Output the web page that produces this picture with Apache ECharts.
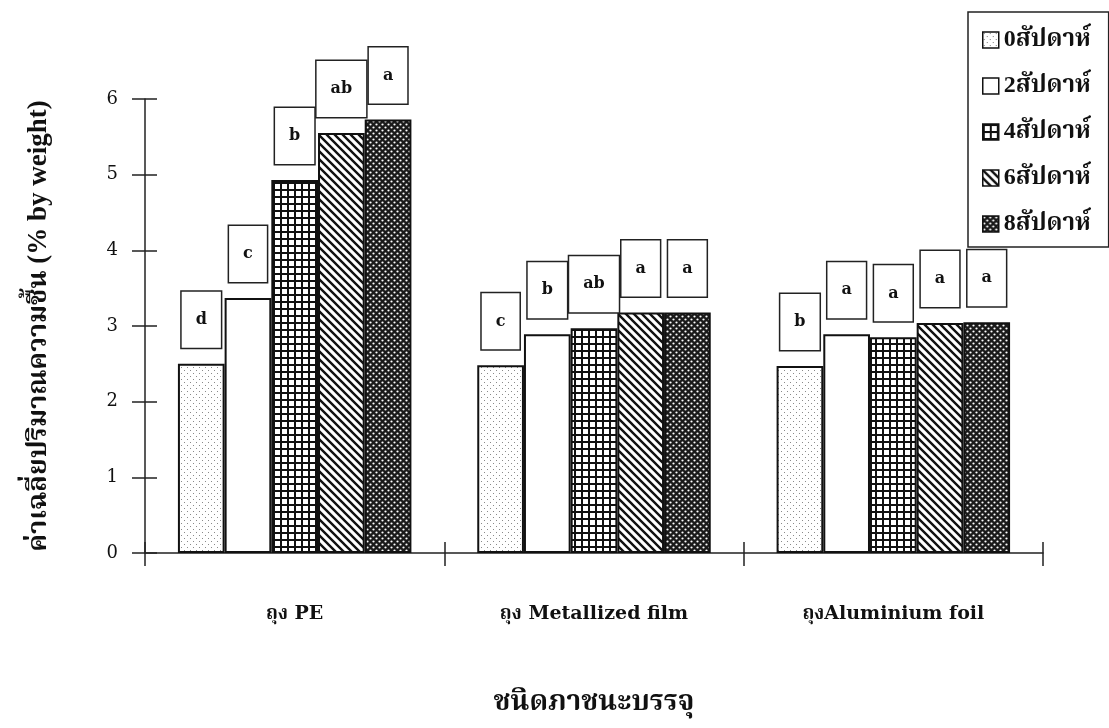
<!DOCTYPE html>
<html>
<head>
<meta charset="utf-8">
<script src="https://cdn.jsdelivr.net/npm/echarts@6/dist/echarts.min.js"></script>
<style>
  html, body { margin: 0; padding: 0; background: #fff; }
  #chart { width: 1109px; height: 728px; }
</style>
</head>
<body>
<div id="chart"></div>
<script>
// Packaging types and storage periods
const packages = ['ถุง PE', 'ถุง Metallized film', 'ถุงAluminium foil'];
const weeks = ['0สัปดาห์', '2สัปดาห์', '4สัปดาห์', '6สัปดาห์', '8สัปดาห์'];

// Mean moisture content (% by weight) per package, one array per storage week
const week0 = [2.50, 2.48, 2.47];
const week2 = [3.37, 2.89, 2.89];
const week4 = [4.93, 2.97, 2.85];
const week6 = [5.55, 3.18, 3.04];
const week8 = [5.73, 3.18, 3.05];

// Significance letters shown above each bar
const letters0 = ['d', 'c', 'b'];
const letters2 = ['c', 'b', 'a'];
const letters4 = ['b', 'ab', 'a'];
const letters6 = ['ab', 'a', 'a'];
const letters8 = ['a', 'a', 'a'];

const yTicks = [0, 1, 2, 3, 4, 5, 6];

const seriesValues = [week0, week2, week4, week6, week8];
const seriesLetters = [letters0, letters2, letters4, letters6, letters8];

// Monochrome fill patterns drawn on small tiles
function tile(size, draw) {
  const c = document.createElement('canvas');
  c.width = size; c.height = size;
  const g = c.getContext('2d');
  draw(g, size);
  return { image: c, repeat: 'repeat' };
}
const fills = [
  tile(6, (g, s) => {            // light stipple
    g.fillStyle = '#fff'; g.fillRect(0, 0, s, s);
    g.fillStyle = '#8a8a8a';
    g.fillRect(1, 1, 1, 1); g.fillRect(4, 4, 1, 1);
  }),
  tile(6, (g, s) => {            // plain white
    g.fillStyle = '#fff'; g.fillRect(0, 0, s, s);
  }),
  tile(7, (g, s) => {            // square grid
    g.fillStyle = '#fff'; g.fillRect(0, 0, s, s);
    g.fillStyle = '#111';
    g.fillRect(0, 0, s, 2); g.fillRect(0, 0, 2, s);
  }),
  tile(8, (g, s) => {            // diagonal hatch
    g.fillStyle = '#fff'; g.fillRect(0, 0, s, s);
    g.strokeStyle = '#111'; g.lineWidth = 2.4;
    g.beginPath();
    g.moveTo(-2, -2); g.lineTo(s + 2, s + 2);
    g.moveTo(-2, s - 2); g.lineTo(2, s + 2);
    g.moveTo(s - 2, -2); g.lineTo(s + 2, 2);
    g.stroke();
  }),
  tile(6, (g, s) => {            // dark with white dots
    g.fillStyle = '#1a1a1a'; g.fillRect(0, 0, s, s);
    g.fillStyle = '#fff';
    g.beginPath(); g.arc(1.5, 1.5, 1.1, 0, Math.PI * 2); g.fill();
    g.beginPath(); g.arc(4.5, 4.5, 1.1, 0, Math.PI * 2); g.fill();
  })
];

const serif = '"DejaVu Serif", "Liberation Serif", "Noto Serif Thai", "Noto Sans Thai Looped", serif';
const timesLike = '"Liberation Serif", "DejaVu Serif", "Noto Serif Thai", "Noto Sans Thai Looped", serif';

const chart = echarts.init(document.getElementById('chart'), null, { renderer: 'canvas' });

const series = weeks.map((name, i) => ({
  name,
  type: 'bar',
  xAxisIndex: 0,
  yAxisIndex: 0,
  data: seriesValues[i],
  barGap: '0%',
  barCategoryGap: '22%',
  itemStyle: { color: fills[i], borderColor: '#111', borderWidth: 2 },
  label: {
    show: true,
    position: 'top',
    distance: 16,
    formatter: p => seriesLetters[i][p.dataIndex],
    fontFamily: serif,
    fontWeight: 'bold',
    fontSize: 16,
    color: '#111',
    backgroundColor: '#fff',
    borderColor: '#222',
    borderWidth: 1.5,
    padding: [20, 14, 20, 14]
  }
}));

chart.setOption({
  animation: false,
  backgroundColor: '#fff',
  grid: { left: 145, right: 66, top: 99, bottom: 175 },
  legend: {
    data: weeks,
    orient: 'vertical',
    left: 968,
    top: 12,
    icon: 'rect',
    itemWidth: 16,
    itemHeight: 16,
    itemGap: 22,
    padding: [16, 18, 11, 14],
    backgroundColor: '#fff',
    borderColor: '#222',
    borderWidth: 1.5,
    textStyle: { fontFamily: timesLike, fontWeight: 'bold', fontSize: 24, color: '#111' },
    itemStyle: { borderColor: '#111', borderWidth: 1.5 }
  },
  xAxis: [
    {
      type: 'category',
      data: packages,
      axisLine: { lineStyle: { color: '#222', width: 1.5 } },
      axisTick: { show: true, length: 13, lineStyle: { color: '#222', width: 1.5 } },
      axisLabel: {
        margin: 52,
        fontFamily: serif,
        fontWeight: 'bold',
        fontSize: 19,
        color: '#111'
      },
      name: 'ชนิดภาชนะบรรจุ',
      nameLocation: 'middle',
      nameGap: 136,
      nameTextStyle: { fontFamily: timesLike, fontWeight: 'bold', fontSize: 28, color: '#111' }
    },
    {
      type: 'category',
      data: packages,
      position: 'bottom',
      axisLine: { show: false },
      axisTick: { show: true, inside: true, length: 11, lineStyle: { color: '#222', width: 1.5 } },
      axisLabel: { show: false }
    }
  ],
  yAxis: [
    {
      type: 'value',
      min: yTicks[0],
      max: yTicks[yTicks.length - 1],
      interval: 1,
      splitLine: { show: false },
      axisLine: { show: true, lineStyle: { color: '#222', width: 1.5 } },
      axisTick: { show: true, length: 13, lineStyle: { color: '#222', width: 1.5 } },
      axisLabel: { margin: 27, fontFamily: serif, fontSize: 18, color: '#111' },
      name: 'ค่าเฉลี่ยปริมาณความชื้น (% by weight)',
      nameLocation: 'middle',
      nameGap: 92,
      nameRotate: 90,
      nameTextStyle: { fontFamily: timesLike, fontWeight: 'bold', fontSize: 27, color: '#111' }
    },
    {
      type: 'value',
      position: 'left',
      min: yTicks[0],
      max: yTicks[yTicks.length - 1],
      interval: 1,
      splitLine: { show: false },
      axisLine: { show: false },
      axisTick: { show: true, inside: true, length: 12, lineStyle: { color: '#222', width: 1.5 } },
      axisLabel: { show: false }
    }
  ],
  series
});
</script>
</body>
</html>
